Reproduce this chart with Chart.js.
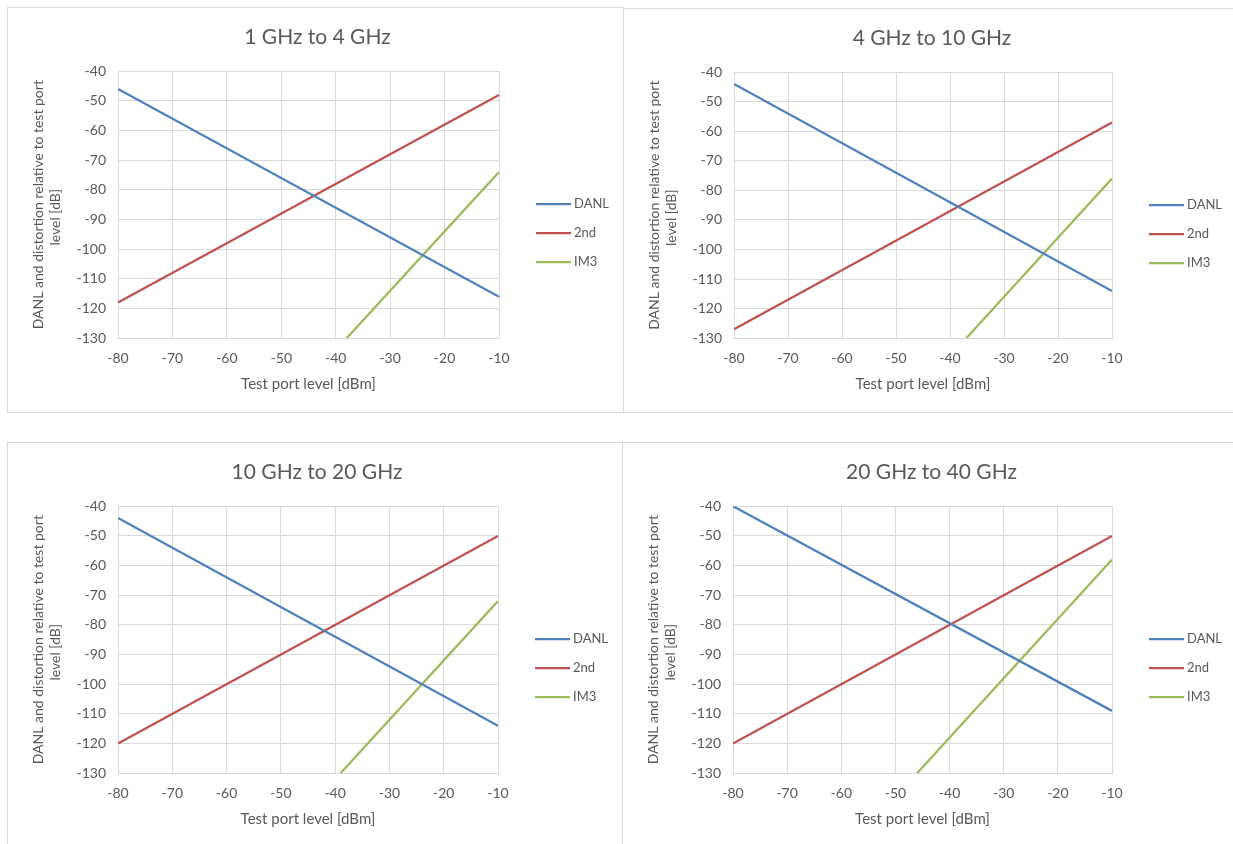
<!DOCTYPE html>
<html>
<head>
<meta charset="utf-8">
<script src="https://cdn.jsdelivr.net/npm/chart.js@4.4.1/dist/chart.umd.min.js"></script>
<style>
  body { margin: 0; background: #fff; width: 1233px; height: 844px; overflow: hidden; position: relative; }
  .box { position: absolute; border: 1px solid #d9d9d9; background: #fff; }
  .box canvas { display: block; }
</style>
</head>
<body>
<div class="box" style="left:7px;top:7px;width:615px;height:404px"><canvas id="c1" width="615" height="404"></canvas></div>
<div class="box" style="left:623px;top:8px;width:612px;height:403px"><canvas id="c2" width="612" height="403"></canvas></div>
<div class="box" style="left:7px;top:442px;width:614px;height:404px"><canvas id="c3" width="614" height="404"></canvas></div>
<div class="box" style="left:622px;top:442px;width:613px;height:404px"><canvas id="c4" width="613" height="404"></canvas></div>
<script>
// x endpoints of the DANL / 2nd lines (test port level, dBm)
const levelX = [-80, -10];

// 1 GHz to 4 GHz
const danl1 = [-46, -116];
const second1 = [-118, -48];
const im3X1 = [-38, -10];
const im3_1 = [-130, -74];

// 4 GHz to 10 GHz
const danl2 = [-44, -114];
const second2 = [-127, -57];
const im3X2 = [-37, -10];
const im3_2 = [-130, -76];

// 10 GHz to 20 GHz
const danl3 = [-44, -114];
const second3 = [-120, -50];
const im3X3 = [-39, -10];
const im3_3 = [-130, -72];

// 20 GHz to 40 GHz
const danl4 = [-40, -109];
const second4 = [-120, -50];
const im3X4 = [-46, -10];
const im3_4 = [-130, -58];

const seriesNames = ["DANL", "2nd", "IM3"];
const seriesColors = ["#4F81BD", "#C0504D", "#9BBB59"];

const textColor = "#595959";
const gridColor = "#d9d9d9";
const fontFamily = "Lato, 'Open Sans', sans-serif";

function toPoints(xs, ys) {
  return xs.map((x, i) => ({ x: x, y: ys[i] }));
}

// excel style legend to the right of the plot, drawn from the datasets
const sideLegend = {
  id: "sideLegend",
  afterDraw(chart) {
    const ctx = chart.ctx;
    const area = chart.chartArea;
    ctx.save();
    ctx.font = "13px " + fontFamily;
    ctx.textBaseline = "middle";
    chart.data.datasets.forEach((ds, i) => {
      const y = area.top + 133 + i * 29;
      const x = area.right + 37;
      ctx.strokeStyle = ds.borderColor;
      ctx.lineWidth = 2.25;
      ctx.beginPath();
      ctx.moveTo(x, y);
      ctx.lineTo(x + 35, y);
      ctx.stroke();
      ctx.fillStyle = textColor;
      ctx.fillText(ds.label, x + 38, y);
    });
    ctx.restore();
  },
};

function makeChart(id, title, danl, second, im3x, im3) {
  const lines = [toPoints(levelX, danl), toPoints(levelX, second), toPoints(im3x, im3)];
  new Chart(document.getElementById(id), {
    type: "scatter",
    data: {
      datasets: lines.map((pts, i) => ({
        label: seriesNames[i],
        data: pts,
        showLine: true,
        borderColor: seriesColors[i],
        backgroundColor: seriesColors[i],
        borderWidth: 2.25,
        pointRadius: 0,
      })),
    },
    options: {
      responsive: false,
      animation: false,
      layout: { padding: { left: 18, right: 14, top: 6, bottom: 15 } },
      plugins: {
        title: {
          display: true,
          text: title,
          color: textColor,
          font: { family: fontFamily, size: 21, weight: "normal" },
          padding: { top: 11, bottom: 21 },
        },
        legend: { display: false },
        tooltip: { enabled: false },
      },
      scales: {
        x: {
          type: "linear",
          min: -80,
          max: -10,
          ticks: { stepSize: 10, color: textColor, font: { family: fontFamily, size: 14 }, padding: 12 },
          grid: { color: gridColor, drawTicks: false },
          border: { color: gridColor },
          title: {
            display: true,
            text: "Test port level [dBm]",
            color: textColor,
            font: { family: fontFamily, size: 15 },
            padding: { top: -4 },
          },
        },
        y: {
          type: "linear",
          min: -130,
          max: -40,
          ticks: { stepSize: 10, color: textColor, font: { family: fontFamily, size: 14 }, padding: 12 },
          grid: { color: gridColor, drawTicks: false },
          border: { color: gridColor },
          title: {
            display: true,
            text: ["DANL and distortion relative to test port", "level [dB]       "],
            color: textColor,
            font: { family: fontFamily, size: 14, lineHeight: 1.2 },
            padding: { bottom: 4 },
          },
          afterFit: (scale) => { scale.width = 92; },
        },
        // empty axis that keeps room for the legend on the right
        side: {
          type: "linear",
          position: "right",
          display: true,
          grid: { display: false },
          border: { display: false },
          ticks: { display: false },
          afterFit: (scale) => { scale.width = 110; },
        },
      },
    },
    plugins: [sideLegend],
  });
}

makeChart("c1", "1 GHz to 4 GHz", danl1, second1, im3X1, im3_1);
makeChart("c2", "4 GHz to 10 GHz", danl2, second2, im3X2, im3_2);
makeChart("c3", "10 GHz to 20 GHz", danl3, second3, im3X3, im3_3);
makeChart("c4", "20 GHz to 40 GHz", danl4, second4, im3X4, im3_4);
</script>
</body>
</html>
